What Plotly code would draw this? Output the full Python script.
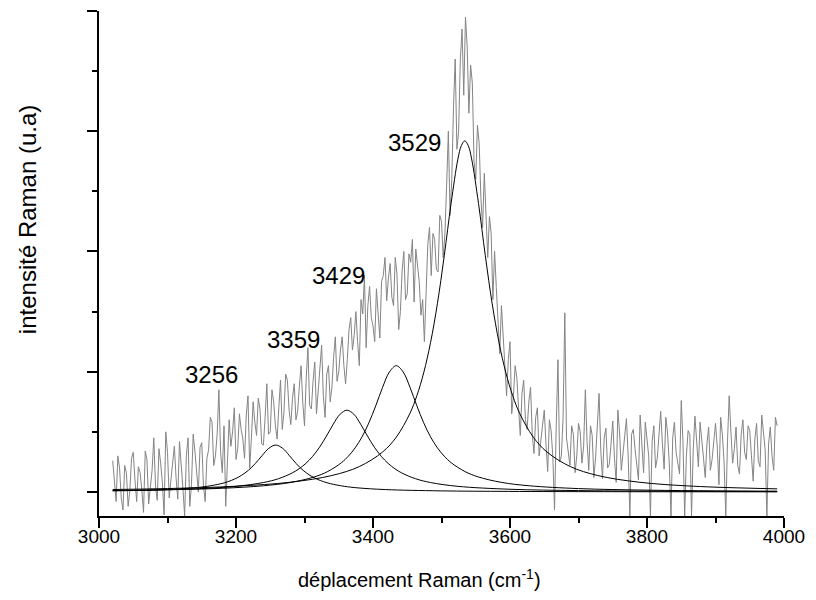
import plotly.graph_objects as go

# ---- measured spectrum (gray) ----
# samples on the 5 cm-1 grid 3020 ... 3990
spec_x = list(range(3020, 3991, 5))
spec_y = [
    0.26, -0.08, 0.20, -0.15, 0.16, 0.01, 0.33, -0.08, 0.16, -0.17,
    0.27, 0.02, 0.45, -0.07, 0.24, -0.19, 0.33, 0.10, 0.38, -0.06,
    0.25, -0.20, 0.45, 0.06, 0.34, 0.00, 0.41, -0.08, 0.35, 0.58,
    0.30, 0.85, 0.16, -0.12, 0.60, 0.50, 0.27, 0.65, 0.44, 0.64,
    0.20, 0.75, 0.47, 0.69, 0.39, 0.90, 0.50, 0.75, 0.44, 0.93,
    0.66, 0.93, 0.56, 0.90, 0.67, 1.05, 0.55, 1.20, 0.69, 1.08,
    0.85, 1.22, 0.62, 1.05, 0.87, 1.29, 1.00, 1.29, 0.90, 1.35,
    1.18, 1.50, 1.05, 1.48, 1.20, 1.71, 1.38, 1.69, 1.28, 1.80,
    1.59, 1.90, 1.55, 1.81, 1.50, 2.00, 1.65, 1.91, 1.58, 1.88,
    1.47, 1.25, 2.06, 1.80, 2.10, 1.83, 2.25, 2.15, 3.00, 2.60,
    3.60, 3.00, 3.85, 3.95, 3.15, 3.40, 2.60, 2.90, 2.20, 2.35,
    2.29, 1.60, 1.70, 1.15, 1.32, 0.80, 1.25, 0.80, 0.95, 0.47,
    0.93, 0.52, 0.87, 0.32, 0.70, 0.43, 0.68, 0.17, 0.51, -0.15,
    1.10, 0.30, 1.49, 0.35, 0.55, 0.16, 0.57, 0.24, 0.85, 0.18,
    0.47, 0.29, 0.82, 0.11, 0.53, 0.23, 0.59, 0.08, 0.49, 0.31,
    0.61, -0.20, 0.52, 0.25, 0.64, 0.16, 0.46, -0.20, 0.55, 0.28,
    0.67, 0.19, 0.49, -0.20, 0.58, 0.25, 0.76, -0.20, 0.51, -0.20,
    0.63, 0.21, 0.45, 0.12, 0.54, 0.27, 0.57, 0.06, 0.48, -0.20,
    0.80, 0.24, 0.54, 0.15, 0.60, 0.27, 0.51, 0.09, 0.57, 0.21,
    0.48, -0.20, 0.54, 0.18, 0.55,
]
# samples on the intermediate grid 3022.5 ... 3987.5
spec_x_mid = [3022.5 + 5 * i for i in range(194)]
spec_y_mid = [
    0.12, 0.30, -0.05, 0.22, -0.12, 0.28, 0.10, 0.21, 0.02, 0.34,
    -0.10, 0.18, 0.05, 0.36, 0.08, 0.50, -0.05, 0.27, 0.12, 0.42,
    0.03, 0.30, -0.12, 0.48, 0.14, 0.37, 0.05, 0.28, 0.62, 0.22,
    0.48, 0.33, 0.55, 0.25, 0.38, 0.70, 0.36, 0.52, 0.28, 0.80,
    0.45, 0.58, 0.78, 0.40, 0.62, 0.48, 0.85, 0.55, 0.70, 0.52,
    0.98, 0.68, 0.78, 0.60, 0.88, 0.74, 0.95, 0.72, 0.92, 0.65,
    1.05, 0.80, 0.98, 0.75, 1.12, 0.92, 1.18, 1.05, 1.10, 1.45,
    1.30, 1.25, 1.60, 1.80, 1.55, 1.45, 1.25, 1.48, 1.75, 1.95,
    1.78, 1.62, 1.95, 1.35, 1.84, 1.60, 1.98, 2.10, 2.02, 1.75,
    1.60, 1.72, 2.20, 2.15, 1.85, 2.30, 1.95, 2.55, 2.30, 3.20,
    2.85, 3.60, 3.30, 3.70, 3.55, 2.75, 3.05, 2.45, 2.65, 1.95,
    2.15, 2.00, 1.45, 1.55, 1.05, 1.10, 0.65, 1.05, 0.70, 0.82,
    0.60, 0.75, 0.48, 0.62, 0.30, 0.58, 0.40, 0.60, 0.30, 0.55,
    0.25, 0.62, 0.45, 0.22, 0.48, 0.30, 0.50, 0.38, 0.42, 0.55,
    0.12, 0.60, 0.35, 0.45, 0.20, 0.40, 0.28, 0.68, 0.18, 0.44,
    0.30, 0.48, 0.36, 0.10, 0.44, 0.58, 0.30, 0.42, 0.20, 0.52,
    0.40, 0.62, 0.24, 0.45, 0.33, 0.15, 0.42, 0.30, 0.48, 0.35,
    0.40, 0.58, 0.28, 0.40, 0.18, 0.45, 0.38, 0.62, 0.25, 0.42,
    0.50, 0.36, 0.22, 0.48, 0.33, 0.55, 0.30, 0.44, 0.26, 0.64,
    0.35, 0.40, 0.30, 0.62,
]
assert len(spec_x) == len(spec_y), (len(spec_x), len(spec_y))
assert len(spec_x_mid) == len(spec_y_mid), (len(spec_x_mid), len(spec_y_mid))

# ---- fitted component bands (black) ----
band1_x = [3020, 3058, 3098, 3138, 3158, 3178, 3188, 3198, 3208, 3218, 3228, 3238, 3248, 3258,
           3268, 3278, 3288, 3298, 3308, 3318, 3328, 3338, 3358, 3378, 3418, 3498, 3598, 3738, 3990]
band1_y = [0.0092, 0.0129, 0.0198, 0.0339, 0.0470, 0.0687, 0.0852, 0.1074, 0.1380, 0.1798, 0.2353,
           0.3018, 0.3634, 0.39, 0.3634, 0.3018, 0.2353, 0.1798, 0.1380, 0.1074, 0.0852, 0.0687,
           0.0470, 0.0339, 0.0198, 0.0091, 0.0046, 0.0023, 0.0010]

band2_x = [3020, 3100, 3160, 3200, 3240, 3262, 3282, 3292, 3302, 3312, 3322, 3332, 3342, 3352, 3362,
           3372, 3382, 3392, 3402, 3412, 3422, 3432, 3442, 3462, 3484, 3524, 3600, 3700, 3800, 3990]
band2_y = [0.0111, 0.0187, 0.0308, 0.0467, 0.0783, 0.1103, 0.1579, 0.1926, 0.2378, 0.2968, 0.3724,
           0.4642, 0.5636, 0.6466, 0.68, 0.6466, 0.5636, 0.4642, 0.3724, 0.2968, 0.2378, 0.1926,
           0.1579, 0.1103, 0.0783, 0.0467, 0.0225, 0.0113, 0.0068, 0.0033]

band3_x = [3020, 3100, 3180, 3240, 3280, 3314, 3334, 3354, 3364, 3374, 3384, 3394, 3404, 3414, 3424,
           3434, 3444, 3454, 3464, 3474, 3484, 3494, 3504, 3514, 3534, 3554, 3588, 3628, 3700, 3800,
           3900, 3990]
band3_y = [0.0117, 0.0179, 0.0306, 0.0514, 0.0792, 0.1244, 0.1703, 0.2438, 0.2974, 0.3671, 0.4583,
           0.5750, 0.7167, 0.8702, 0.9984, 1.05, 0.9984, 0.8702, 0.7167, 0.5750, 0.4583, 0.3671,
           0.2974, 0.2438, 0.1703, 0.1244, 0.0792, 0.0514, 0.0280, 0.0150, 0.0093, 0.0065]

band4_x = [3020, 3100, 3200, 3280, 3340, 3380, 3414, 3434, 3454, 3464, 3474, 3484, 3494, 3504, 3514,
           3524, 3529, 3534, 3539, 3544, 3554, 3564, 3574, 3584, 3594, 3604, 3614, 3634, 3654, 3688,
           3728, 3788, 3868, 3990]
band4_y = [0.0203, 0.0284, 0.0476, 0.0814, 0.1368, 0.2111, 0.3323, 0.4557, 0.6546, 0.8000, 0.9908,
           1.2415, 1.5654, 1.9640, 2.4007, 2.7701, 2.881, 2.92, 2.881, 2.7701, 2.4007, 1.9640,
           1.5654, 1.2415, 0.9908, 0.8000, 0.6546, 0.4557, 0.3323, 0.2111, 0.1368, 0.0814,
           0.0476, 0.0257]

# ---- peak labels ----
label_text = ["3256", "3359", "3429", "3529"]
label_x = [3164, 3284, 3349, 3461]
label_y = [0.98, 1.27, 1.80, 2.91]

x_ticks = [3000, 3200, 3400, 3600, 3800, 4000]
y_ticks = [0, 1, 2, 3, 4]

FONT = "Arial, Liberation Sans, sans-serif"

# merge the two sample grids in wavenumber order
pairs = sorted(zip(spec_x + spec_x_mid, spec_y + spec_y_mid))
all_x = [p[0] for p in pairs]
all_y = [p[1] for p in pairs]

fig = go.Figure()
fig.add_trace(go.Scatter(x=all_x, y=all_y, mode="lines",
                         line=dict(color="#848484", width=1), hoverinfo="skip"))
for bx, by in [(band1_x, band1_y), (band2_x, band2_y), (band3_x, band3_y), (band4_x, band4_y)]:
    fig.add_trace(go.Scatter(x=bx, y=by, mode="lines",
                             line=dict(color="black", width=1, shape="spline", smoothing=1),
                             hoverinfo="skip"))

for t, lx, ly in zip(label_text, label_x, label_y):
    fig.add_annotation(x=lx, y=ly, text=t, showarrow=False,
                       font=dict(family=FONT, size=24, color="black"),
                       xanchor="center", yanchor="middle")

fig.add_annotation(xref="paper", yref="paper", x=0.468, y=-0.123,
                   text="déplacement Raman (cm<sup>-1</sup>)", showarrow=False,
                   font=dict(family=FONT, size=20, color="black"),
                   xanchor="center", yanchor="middle")
fig.add_annotation(xref="paper", yref="paper", x=-0.105, y=0.586,
                   text="intensité Raman (u.a)", showarrow=False, textangle=-90,
                   font=dict(family=FONT, size=24, color="black"),
                   xanchor="center", yanchor="middle")

fig.update_layout(
    width=800, height=584,
    margin=dict(l=91, r=21, t=3, b=76),
    paper_bgcolor="white", plot_bgcolor="white",
    showlegend=False,
    font=dict(family=FONT, size=19, color="black"),
)
fig.update_xaxes(
    range=[3000, 4000], tickmode="array", tickvals=x_ticks,
    ticks="outside", ticklen=10, tickwidth=2, tickcolor="black",
    ticklabeloverflow="allow", ticklabelstandoff=-8,
    showline=True, linecolor="black", linewidth=2,
    showgrid=False, zeroline=False,
    tickfont=dict(family=FONT, size=19, color="black"),
    minor=dict(dtick=100, ticks="outside", ticklen=5, tickwidth=2, tickcolor="black", showgrid=False),
)
fig.update_yaxes(
    range=[-0.2, 4.0], tickmode="array", tickvals=y_ticks, showticklabels=False,
    ticks="outside", ticklen=10, tickwidth=2, tickcolor="black",
    showline=True, linecolor="black", linewidth=2,
    showgrid=False, zeroline=False,
    minor=dict(dtick=0.5, tick0=0, ticks="outside", ticklen=5, tickwidth=2, tickcolor="black", showgrid=False),
)

fig.write_html("out.html")
